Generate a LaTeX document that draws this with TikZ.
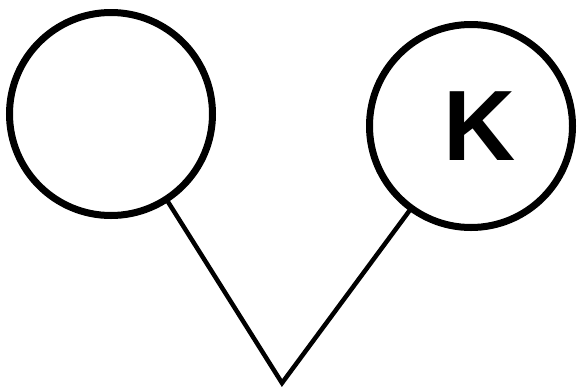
\documentclass[tikz,border=0pt]{standalone}
\usepackage{fontspec}
\setmainfont{Liberation Sans}
\begin{document}
\begin{tikzpicture}[x=1pt,y=-1pt,
  ring/.style={draw, circle, line width=7pt, minimum size=203pt, inner sep=0pt, outer sep=0pt},
  stem/.style={line width=4.5pt, line join=miter, line cap=round}]
\useasboundingbox (0,0) rectangle (578,389);
\node[ring] (L) at (111,114) {};
\node[ring] (R) at (471,126) {};
\node[font=\fontsize{100}{100}\selectfont\bfseries, inner sep=0pt] (K) at (480,126) {K};
\coordinate (V) at (282,383);
\draw[stem] (L.-57.5) -- (V) -- (R.-126);
\end{tikzpicture}
\end{document}
